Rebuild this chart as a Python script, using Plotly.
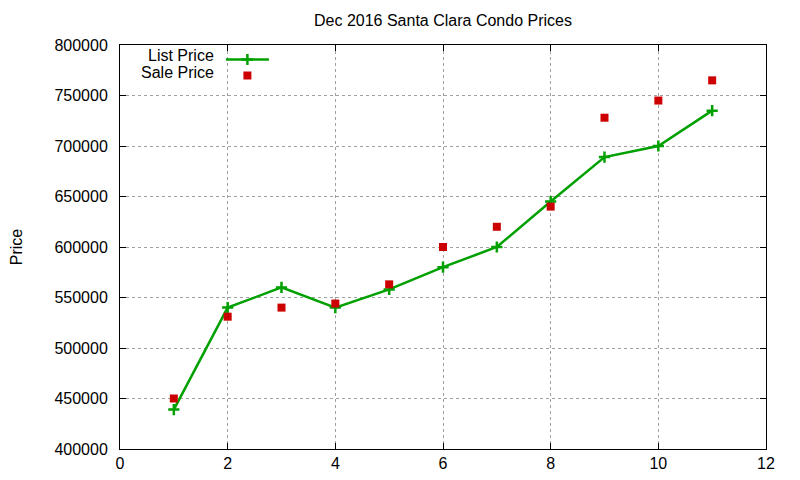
import plotly.graph_objects as go

months = [1, 2, 3, 4, 5, 6, 7, 8, 9, 10, 11]
list_price = [439000, 540000, 560000, 540000, 558000, 580000, 600000, 645000, 689000, 700000, 735000]
sale_price = [450000, 531000, 540000, 544000, 563000, 600000, 620000, 640000, 728000, 745000, 765000]
series_names = ["List Price", "Sale Price"]

GREEN = "#00a000"
RED = "#cc0000"
FONT = "Liberation Sans, Arial"

fig = go.Figure()
fig.add_trace(go.Scatter(
    x=months, y=list_price, name=" ", mode="lines+markers", legend="legend",
    line=dict(color=GREEN, width=2.5),
    marker=dict(symbol="cross-thin", size=8, line=dict(color=GREEN, width=2.5)),
))
fig.add_trace(go.Scatter(
    x=months, y=sale_price, name=" ", mode="markers", legend="legend2",
    marker=dict(symbol="square", size=8, color=RED),
))

axis_style = dict(
    showline=True, linecolor="black", linewidth=1, mirror="ticks",
    ticks="inside", ticklen=6, tickcolor="black",
    showgrid=True, gridcolor="#a0a0a0", griddash="dot", gridwidth=1,
    zeroline=False, automargin=False,
    tickfont=dict(family=FONT, size=16, color="black"),
)

fig.update_xaxes(range=[0, 12], dtick=2, **axis_style)
fig.update_yaxes(range=[400000, 800000], dtick=50000, tickformat="d",
                 ticklabelstandoff=8,
                 title=dict(text="Price", standoff=40,
                            font=dict(family=FONT, size=16, color="black")),
                 **axis_style)

# legend labels sit to the left of the samples, as in the original
for i, name in enumerate(series_names):
    fig.add_annotation(text=name, xref="paper", yref="paper",
                       x=0.149, y=0.9728 - i * 0.0406, xanchor="right", yanchor="middle",
                       showarrow=False,
                       font=dict(family=FONT, size=16, color="black"))

legend_style = dict(x=0.1562, xanchor="left", yanchor="top",
                    bgcolor="rgba(0,0,0,0)", itemwidth=43,
                    font=dict(family=FONT, size=8))

# page body adds an 8px margin, so the figure is sized to fit the window
fig.update_layout(
    width=792, height=472,
    title=dict(text="Dec 2016 Santa Clara Condo Prices", x=0.5492, xanchor="center",
               y=0.9746, yanchor="middle",
               font=dict(family=FONT, size=16, color="black")),
    plot_bgcolor="white", paper_bgcolor="white",
    margin=dict(l=112, r=34, t=37, b=31),
    showlegend=True,
    legend=dict(y=1.0, **legend_style),
    legend2=dict(y=0.9604, **legend_style),
)

fig.write_html("out.html")
